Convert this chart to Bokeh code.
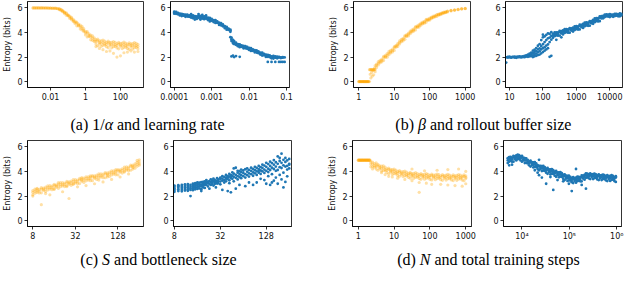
from bokeh.plotting import figure
from bokeh.layouts import column, row
from bokeh.models import Range1d, FixedTicker, CustomJSTickFormatter
from bokeh.core.properties import value
from bokeh.embed import file_html
from bokeh.resources import INLINE

ORANGE = "#ffa500"
BLUE = "#1f77b4"

# ---------------- data ----------------
# (a) left: x = log10(1/alpha), entropy values
inv_alpha_log10 = [
    (-3.0, [6.0, 6.0]), (-2.9, [6.0, 6.0]), (-2.8, [6.0, 6.0]), (-2.7, [6.0, 6.0]), (-2.6, [6.0, 5.99]),
    (-2.5, [6.0, 6.0]), (-2.4, [6.0, 5.99]), (-2.3, [5.99, 6.0]), (-2.2, [5.99, 6.0]), (-2.1, [5.99, 5.98]),
    (-2.0, [5.98, 5.99]), (-1.9, [5.98, 5.97]), (-1.8, [5.97, 5.98]), (-1.7, [5.96, 5.98]), (-1.6, [5.93, 5.95]),
    (-1.5, [5.9, 5.94, 5.85]), (-1.4, [5.84, 5.78, 5.89]), (-1.3, [5.69, 5.73, 5.78]), (-1.2, [5.66, 5.55, 5.61]),
    (-1.1, [5.4, 5.54, 5.59]), (-1.0, [5.39, 5.35, 5.44]), (-0.9, [5.25, 5.33, 5.14]), (-0.8, [5.14, 5.04, 5.22]),
    (-0.7, [4.9, 4.97, 5.07]), (-0.6, [4.92, 4.72, 4.83]), (-0.5, [4.54, 4.76, 4.84]), (-0.4, [4.6, 4.53, 4.69]),
    (-0.3, [4.46, 4.6, 4.28]), (-0.2, [4.36, 4.2, 4.5]), (-0.1, [4.07, 4.17, 4.31]), (0.0, [4.09, 3.8, 3.96]),
    (0.1, [3.64, 3.95, 4.06]), (0.2, [3.76, 3.67, 3.88]), (0.3, [3.62, 3.79, 3.4]), (0.4, [3.56, 3.36, 3.73]),
    (0.5, [3.26, 3.39, 3.57]), (0.6, [3.41, 3.06, 3.25, 2.85]), (0.7, [2.92, 3.31, 3.45]), (0.8, [3.18, 3.07, 3.32, 2.7]),
    (0.9, [3.12, 3.32, 2.87]), (1.0, [3.18, 2.96, 3.38, 2.6]), (1.1, [2.97, 3.11, 3.3]), (1.2, [3.2, 2.84, 3.03, 2.45]),
    (1.3, [2.76, 3.15, 3.29]), (1.4, [3.05, 2.94, 3.19, 2.5]), (1.5, [3.0, 3.2, 2.75]), (1.6, [3.06, 2.84, 3.26, 2.3]),
    (1.7, [2.86, 3.0, 3.19]), (1.8, [3.1, 2.74, 2.93, 2.0]), (1.9, [2.67, 3.06, 3.2]), (2.0, [2.98, 2.87, 3.12, 2.1]),
    (2.1, [2.94, 3.14, 2.69]), (2.2, [3.01, 2.79, 3.21, 2.35]), (2.3, [2.81, 2.95, 3.14]), (2.4, [3.06, 2.7, 2.89, 2.4]),
    (2.5, [2.63, 3.02, 3.16]), (2.6, [2.94, 2.83, 3.08, 2.5]), (2.7, [2.9, 3.1, 2.65]), (2.8, [2.98, 2.76, 3.18, 2.4]),
    (2.9, [2.79, 2.93, 3.12]), (3.0, [3.04, 2.68, 2.87, 2.45]),
]

# (a) right: x = log10(learning rate)
learning_rate_log10 = [
    (-4.0, [5.62, 5.69, 5.53]), (-3.95, [5.6, 5.52, 5.67]), (-3.9, [5.48, 5.53, 5.6]), (-3.85, [5.53, 5.39, 5.46]),
    (-3.8, [5.33, 5.47, 5.52]), (-3.75, [5.41, 5.37, 5.46]), (-3.7, [5.37, 5.45, 5.27]), (-3.65, [5.37, 5.29, 5.44]),
    (-3.6, [5.27, 5.32, 5.39]), (-3.55, [5.35, 5.21, 5.28, 5.5]), (-3.5, [5.16, 5.33, 5.39]), (-3.45, [5.26, 5.21, 5.33, 5.05]),
    (-3.4, [5.22, 5.31, 5.1]), (-3.35, [5.28, 5.18, 5.36, 5.5]), (-3.3, [5.2, 5.26, 5.35, 5.05]), (-3.25, [5.3, 5.13, 5.22, 5.42]),
    (-3.2, [5.08, 5.25, 5.31]), (-3.15, [5.17, 5.12, 5.23, 5.38]), (-3.1, [5.12, 5.2, 5.01]), (-3.05, [5.1, 5.0, 5.18, 4.9]),
    (-3.0, [4.95, 5.01, 5.1]), (-2.95, [5.01, 4.85, 4.94]), (-2.9, [4.78, 4.95, 5.01]), (-2.85, [4.83, 4.78, 4.9]),
    (-2.8, [4.72, 4.8, 4.61]), (-2.75, [4.68, 4.58, 4.76]), (-2.7, [4.5, 4.56, 4.65]), (-2.65, [4.51, 4.35, 4.44]),
    (-2.6, [4.23, 4.4, 4.46]), (-2.55, [4.26, 4.21, 4.32]), (-2.5, [4.15, 4.22, 4.05, 3.62]), (-2.47, [3.58, 3.45, 3.3, 2.05]),
    (-2.43, [3.4, 3.25, 3.12, 2.12]), (-2.4, [3.19, 3.06, 3.3, 2.0]), (-2.35, [3.0, 3.06, 3.17, 2.08]), (-2.3, [3.05, 2.88, 2.97]),
    (-2.25, [2.8, 2.97, 3.03, 2.02]), (-2.2, [2.88, 2.83, 2.94]), (-2.15, [2.82, 2.9, 2.71]), (-2.1, [2.81, 2.71, 2.89]),
    (-2.05, [2.67, 2.73, 2.82]), (-2.0, [2.74, 2.58, 2.67]), (-1.95, [2.5, 2.67, 2.73]), (-1.9, [2.56, 2.51, 2.62]),
    (-1.85, [2.49, 2.57, 2.38]), (-1.8, [2.46, 2.36, 2.54]), (-1.75, [2.31, 2.37, 2.46]), (-1.7, [2.36, 2.2, 2.29]),
    (-1.65, [2.12, 2.29, 2.35]), (-1.6, [2.19, 2.14, 2.25]), (-1.55, [2.12, 2.2, 2.01]), (-1.5, [2.11, 2.02, 2.18, 1.6]),
    (-1.45, [1.99, 2.05, 2.14]), (-1.4, [2.06, 1.9, 1.99, 1.6]), (-1.35, [1.88, 2.04, 2.09]), (-1.3, [1.99, 1.95, 2.05, 1.6]),
    (-1.25, [1.97, 2.03, 1.9]), (-1.2, [1.96, 1.6, 2.02]), (-1.15, [1.98, 1.92, 1.6]), (-1.1, [1.95, 2.0, 1.6]),
    (-1.05, [1.97, 1.6]),
]

# (b) left: x = log10(beta)
beta_log10 = [
    (0.0, [0.0, 0.0]), (0.025, [0.0, 0.0]), (0.05, [0.0, 0.0]), (0.075, [0.0, 0.0]), (0.1, [0.0, 0.0]),
    (0.125, [0.0, 0.0]), (0.15, [0.0, 0.0]), (0.175, [0.0, 0.0]), (0.2, [0.0, 0.0]), (0.225, [0.0, 0.0]),
    (0.25, [0.0, 0.0]), (0.275, [0.0, 0.0]), (0.3, [0.0, 0.97]), (0.32, [0.97, 0.6]), (0.34, [0.97, 0.3]),
    (0.36, [0.97, 0.75]), (0.38, [0.97, 0.45]), (0.4, [0.97, 0.9]), (0.42, [0.97, 0.55]), (0.44, [0.97, 1.1]),
    (0.46, [0.97, 0.8, 1.3]), (0.5, [1.3, 1.43, 1.14]), (0.55, [1.5, 1.36, 1.63]), (0.6, [1.53, 1.62, 1.74]),
    (0.65, [1.84, 1.61, 1.73]), (0.7, [1.72, 1.97, 2.06]), (0.75, [2.04, 1.97, 2.13]), (0.8, [2.15, 2.28, 1.99]),
    (0.85, [2.33, 2.19, 2.46]), (0.9, [2.33, 2.42, 2.54]), (0.95, [2.64, 2.41, 2.53]), (1.0, [2.54, 2.76, 2.84]),
    (1.05, [2.87, 2.8, 2.95]), (1.1, [3.0, 3.11, 2.86]), (1.15, [3.2, 3.07, 3.31]), (1.2, [3.24, 3.32, 3.43]),
    (1.25, [3.53, 3.32, 3.43]), (1.3, [3.44, 3.66, 3.74]), (1.35, [3.74, 3.67, 3.82]), (1.4, [3.85, 3.95, 3.72]),
    (1.45, [4.01, 3.9, 4.11]), (1.5, [4.04, 4.11, 4.21]), (1.55, [4.29, 4.11, 4.21]), (1.6, [4.21, 4.41, 4.48]),
    (1.65, [4.46, 4.41, 4.53]), (1.7, [4.55, 4.63, 4.44]), (1.75, [4.69, 4.59, 4.77]), (1.8, [4.7, 4.76, 4.85]),
    (1.85, [4.91, 4.75, 4.84]), (1.9, [4.83, 5.0, 5.06]), (1.95, [5.03, 4.99, 5.08]), (2.0, [5.1, 5.17, 5.01]),
    (2.05, [5.2, 5.13, 5.25]), (2.1, [5.21, 5.26, 5.33]), (2.15, [5.36, 5.27, 5.33]), (2.2, [5.3, 5.42, 5.46]),
    (2.25, [5.45, 5.41, 5.49]), (2.3, [5.5, 5.55, 5.45]), (2.35, [5.57, 5.52, 5.6]), (2.4, [5.58, 5.61, 5.65]),
    (2.45, [5.67, 5.62, 5.66]), (2.5, [5.66, 5.72, 5.74]), (2.6, [5.78, 5.75, 5.8]), (2.7, [5.82, 5.85, 5.8]),
    (2.8, [5.88, 5.85, 5.89]), (2.9, [5.91, 5.92, 5.94]), (3.0, [5.95, 5.96, 5.94]),
]

# (b) right: x = log10(rollout buffer size)
rollout_log10 = [
    (0.9, [1.98, 1.55]), (0.95, [2.01, 1.96]), (1.0, [1.97, 2.03]), (1.05, [2.0, 1.95]), (1.1, [2.02, 1.99]),
    (1.15, [1.96, 2.03]), (1.2, [2.01, 1.94]), (1.25, [2.03, 1.98]), (1.3, [1.99, 2.06]), (1.35, [1.97, 2.04]),
    (1.4, [2.06, 2.0]), (1.45, [2.1, 1.99]), (1.5, [2.04, 2.14]), (1.55, [2.12, 2.2, 2.02]), (1.6, [2.15, 2.27, 2.05]),
    (1.65, [2.22, 2.36, 2.08]), (1.7, [2.31, 2.52, 2.14, 2.0]), (1.75, [2.42, 2.6, 2.22, 2.06]),
    (1.8, [2.48, 2.73, 2.28, 2.1]), (1.85, [2.63, 2.39, 2.92, 2.16]), (1.9, [2.7, 2.47, 3.05, 2.2]),
    (1.95, [2.88, 2.62, 3.38, 2.3]), (2.0, [3.05, 2.72, 3.6, 3.82, 2.4]), (2.05, [3.22, 2.8, 3.68, 2.52]),
    (2.1, [3.38, 2.93, 3.8, 2.62]), (2.15, [3.52, 3.03, 3.92, 2.72]), (2.2, [3.58, 3.22, 3.88, 2.02]),
    (2.25, [3.72, 3.41, 4.02, 2.1]), (2.3, [3.75, 3.89, 3.57]), (2.35, [3.86, 3.7, 4.0]), (2.4, [3.77, 3.87, 4.01, 3.4]),
    (2.45, [4.0, 3.74, 3.88]), (2.5, [3.75, 4.03, 4.13]), (2.55, [4.0, 3.92, 4.1, 3.6]), (2.6, [4.02, 4.16, 3.84]),
    (2.65, [4.12, 3.96, 4.26]), (2.7, [4.02, 4.12, 4.26]), (2.75, [4.24, 3.98, 4.12]), (2.8, [3.98, 4.26, 4.36]),
    (2.85, [4.24, 4.16, 4.34]), (2.9, [4.26, 4.4, 4.08]), (2.95, [4.36, 4.2, 4.5]), (3.0, [4.27, 4.37, 4.51]),
    (3.05, [4.5, 4.24, 4.38]), (3.1, [4.25, 4.53, 4.63]), (3.15, [4.52, 4.44, 4.62]), (3.2, [4.55, 4.69, 4.37]),
    (3.25, [4.66, 4.5, 4.8]), (3.3, [4.57, 4.67, 4.81]), (3.35, [4.8, 4.54, 4.68]), (3.4, [4.55, 4.83, 4.93]),
    (3.45, [4.82, 4.74, 4.92]), (3.5, [4.88, 5.02, 4.7]), (3.55, [5.0, 4.84, 5.14]), (3.6, [4.92, 5.02, 5.16]),
    (3.65, [5.16, 4.9, 5.04]), (3.7, [4.92, 5.2, 5.3]), (3.75, [5.22, 5.14, 5.32]), (3.8, [5.26, 5.34, 5.15]),
    (3.85, [5.36, 5.26, 5.44]), (3.9, [5.31, 5.37, 5.46]), (3.95, [5.46, 5.3, 5.39]), (4.0, [5.26, 5.43, 5.49]),
    (4.05, [5.39, 5.34, 5.45]), (4.1, [5.38, 5.46, 5.27]), (4.15, [5.44, 5.34, 5.52]), (4.2, [5.37, 5.43, 5.52]),
    (4.25, [5.48, 5.32, 5.41]), (4.3, [5.32, 5.49, 5.55]), (4.35, [5.45, 5.4, 5.51]),
]

# (c) left: x = log2(S)
s_log2 = [
    (3.0, [2.3, 2.45, 2.1, 2.0]), (3.1, [2.41, 2.23, 2.56]), (3.2, [2.29, 2.4, 2.56, 2.62]), (3.3, [2.54, 2.25, 2.41]),
    (3.4, [2.26, 2.57, 2.68, 1.3]), (3.5, [2.54, 2.45, 2.65]), (3.6, [2.57, 2.72, 2.37, 2.2]), (3.7, [2.68, 2.5, 2.83]),
    (3.8, [2.57, 2.68, 2.84, 2.1]), (3.9, [2.81, 2.52, 2.68]), (4.0, [2.53, 2.84, 2.95, 2.6]), (4.1, [2.81, 2.72, 2.92]),
    (4.2, [2.83, 2.98, 2.63, 3.1]), (4.3, [2.94, 2.76, 3.09]), (4.4, [2.82, 2.93, 3.09, 2.35]), (4.5, [3.06, 2.77, 2.93]),
    (4.6, [2.77, 3.08, 3.19, 2.85]), (4.7, [3.05, 2.96, 3.16, 1.8]), (4.8, [3.07, 3.22, 2.87]), (4.9, [3.18, 3.0, 3.33, 2.95]),
    (5.0, [3.06, 3.17, 3.33]), (5.1, [3.3, 3.01, 3.17, 2.75]), (5.2, [3.01, 3.32, 3.43]), (5.3, [3.29, 3.2, 3.4, 3.5]),
    (5.4, [3.31, 3.46, 3.11]), (5.5, [3.42, 3.24, 3.57, 2.85]), (5.6, [3.3, 3.41, 3.57]), (5.7, [3.54, 3.25, 3.41, 3.65]),
    (5.8, [3.25, 3.56, 3.67]), (5.9, [3.53, 3.44, 3.64, 3.0]), (6.0, [3.55, 3.7, 3.35]), (6.1, [3.66, 3.48, 3.81, 3.3]),
    (6.2, [3.54, 3.65, 3.81]), (6.3, [3.78, 3.49, 3.65, 3.15]), (6.4, [3.49, 3.8, 3.91]), (6.5, [3.77, 3.68, 3.88, 3.55]),
    (6.6, [3.79, 3.94, 3.59]), (6.7, [3.9, 3.72, 4.05, 3.35]), (6.8, [3.78, 3.89, 4.05]), (6.9, [4.02, 3.73, 3.89, 4.15]),
    (7.0, [3.73, 4.04, 4.15]), (7.1, [4.03, 3.94, 4.14, 3.55]), (7.2, [4.07, 4.22, 3.87]), (7.3, [4.2, 4.02, 4.35, 3.95]),
    (7.4, [4.1, 4.21, 4.37]), (7.5, [4.36, 4.07, 4.23, 3.8]), (7.6, [4.1, 4.41, 4.52]), (7.7, [4.41, 4.32, 4.52, 4.2]),
    (7.8, [4.46, 4.61, 4.26]), (7.9, [4.6, 4.42, 4.75, 4.9]), (8.0, [4.51, 4.62, 4.78, 4.95]),
]

# (c) right: x = bottleneck size
bottleneck = [
    (8, [2.35, 2.5, 2.62, 2.75, 2.85]), (9, [2.4, 2.55, 2.68, 2.8, 2.88]), (10, [2.38, 2.52, 2.66, 2.78, 2.9]),
    (11, [2.45, 2.58, 2.7, 2.82, 2.95]), (12, [2.42, 2.56, 2.72, 2.85, 2.97]), (13, [2.5, 2.62, 2.75, 2.9, 2.0]),
    (14, [2.48, 2.64, 2.78, 2.92, 3.0]), (15, [2.55, 2.7, 2.82, 2.95, 3.05]), (16, [2.58, 2.72, 2.86, 3.0, 3.1]),
    (17, [2.62, 2.8, 2.95, 3.08]), (18, [2.55, 2.78, 2.92, 3.12, 2.4]), (19, [2.7, 2.86, 3.0, 3.15]),
    (20, [2.66, 2.9, 3.05, 3.2]), (21, [2.92, 3.1, 3.3]), (22, [3.05, 2.78, 3.18]), (23, [2.98, 3.22, 2.6]),
    (24, [3.12, 2.9, 3.36]), (25, [3.0, 3.27, 3.15]), (26, [3.2, 2.85, 3.42]), (27, [3.08, 3.3, 2.98]),
    (28, [3.25, 3.12, 2.7]), (29, [3.15, 3.45, 3.02]), (30, [3.35, 3.05, 3.22]), (32, [3.18, 3.5, 3.38, 2.95]),
    (34, [3.42, 3.25, 3.62, 2.5]), (36, [3.3, 3.55, 3.1]), (38, [3.5, 3.2, 3.72, 3.4]), (40, [3.38, 3.62, 2.4, 3.52]),
    (42, [3.58, 3.28, 3.8, 3.05]), (44, [3.45, 3.7, 2.3, 3.6]), (46, [3.65, 3.4, 3.92]), (48, [3.55, 3.82, 4.25, 3.2]),
    (51, [3.72, 3.48, 4.3, 2.6]), (54, [3.62, 3.9, 3.35, 4.05]), (57, [3.8, 3.55, 4.02, 2.9]), (60, [3.7, 3.95, 3.45, 4.15]),
    (64, [3.88, 3.62, 4.08]), (68, [3.78, 4.18, 3.5, 2.8]), (72, [3.98, 3.7, 4.25]), (76, [3.85, 4.12, 3.58, 3.1]),
    (81, [4.05, 3.78, 4.3]), (86, [3.92, 4.2, 3.65, 2.9]), (91, [4.1, 3.85, 4.38]), (96, [4.0, 4.28, 3.72, 3.1]),
    (102, [4.18, 3.9, 4.45, 4.05]), (108, [4.08, 4.35, 3.8, 3.4]), (114, [4.28, 4.0, 4.55]), (121, [4.15, 4.48, 3.88, 3.3]),
    (128, [4.38, 4.05, 4.7, 3.0]), (136, [4.22, 4.6, 3.95, 3.62]), (144, [4.45, 4.12, 4.8, 2.9]), (152, [4.3, 4.68, 3.78, 3.1]),
    (161, [4.55, 4.2, 4.92, 3.25]), (171, [4.4, 4.75, 4.05, 3.5]), (181, [4.62, 5.22, 4.12, 3.0]), (192, [4.35, 4.85, 5.1, 3.72]),
    (203, [4.7, 5.45, 4.28, 3.35]), (215, [4.5, 4.95, 3.9, 2.7]), (228, [4.78, 5.1, 4.4, 3.15]), (241, [4.45, 4.9, 4.15, 3.6]),
    (256, [4.62, 5.02, 4.55, 4.25]),
]

# (d) left: x = log10(N)
n_log10 = [
    (0.0, [4.92, 4.92]), (0.025, [4.92, 4.92]), (0.05, [4.92, 4.92]), (0.075, [4.92, 4.92]), (0.1, [4.92, 4.92]),
    (0.125, [4.92, 4.92]), (0.15, [4.92, 4.92]), (0.175, [4.92, 4.92]), (0.2, [4.92, 4.92]), (0.225, [4.92, 4.92]),
    (0.25, [4.92, 4.92]), (0.275, [4.92, 4.92]), (0.3, [4.92, 4.92]), (0.325, [4.92, 4.92]),
    (0.35, [4.6, 4.78, 4.38]), (0.4, [4.6, 4.4, 4.77, 4.2]), (0.45, [4.35, 4.47, 4.65]), (0.5, [4.52, 4.2, 4.38, 4.7]),
    (0.55, [4.1, 4.45, 4.57]), (0.6, [4.32, 4.22, 4.45]), (0.65, [4.25, 4.43, 4.03, 3.9]), (0.7, [4.28, 4.08, 4.45]),
    (0.75, [4.05, 4.17, 4.35, 3.75]), (0.8, [4.22, 3.9, 4.08]), (0.85, [3.81, 4.16, 4.28, 3.6]), (0.9, [4.04, 3.94, 4.17]),
    (0.95, [3.98, 4.16, 3.76, 3.55]), (1.0, [4.02, 3.82, 4.19]), (1.05, [3.81, 3.93, 4.11]), (1.1, [4.0, 3.68, 3.86, 3.45]),
    (1.15, [3.6, 3.95, 4.07]), (1.2, [3.84, 3.74, 3.97]), (1.25, [3.8, 3.98, 3.58]), (1.3, [3.85, 3.65, 4.02, 3.35]),
    (1.35, [3.64, 3.76, 3.94]), (1.4, [3.84, 3.52, 3.7]), (1.45, [3.45, 3.8, 3.92]), (1.5, [3.7, 3.6, 3.83, 3.25, 4.2]),
    (1.55, [3.66, 3.84, 3.44]), (1.6, [3.73, 3.53, 3.9]), (1.65, [3.53, 3.65, 3.83]), (1.7, [3.74, 3.42, 3.6, 3.1, 2.3]),
    (1.75, [3.36, 3.71, 3.83]), (1.8, [3.62, 3.52, 3.75]), (1.85, [3.59, 3.77, 3.37, 4.05]), (1.9, [3.66, 3.46, 3.83, 3.05]),
    (1.95, [3.47, 3.59, 3.77]), (2.0, [3.68, 3.36, 3.54]), (2.05, [3.31, 3.66, 3.78, 2.95]), (2.1, [3.57, 3.47, 3.7]),
    (2.15, [3.55, 3.73, 3.33]), (2.2, [3.62, 3.42, 3.79, 4.1]), (2.25, [3.44, 3.56, 3.74]), (2.3, [3.65, 3.33, 3.51, 2.95]),
    (2.35, [3.28, 3.63, 3.75]), (2.4, [3.54, 3.44, 3.67]), (2.45, [3.52, 3.7, 3.3]), (2.5, [3.6, 3.4, 3.77, 2.9, 4.15]),
    (2.55, [3.41, 3.53, 3.71]), (2.6, [3.63, 3.31, 3.49]), (2.65, [3.26, 3.61, 3.73]), (2.7, [3.52, 3.42, 3.65, 2.85]),
    (2.75, [3.5, 3.68, 3.28]), (2.8, [3.58, 3.38, 3.75, 4.2]), (2.85, [3.4, 3.52, 3.7]), (2.9, [3.62, 3.3, 3.48, 2.8]),
    (2.95, [3.25, 3.6, 3.72]), (3.0, [3.52, 3.42, 3.65, 3.0, 4.0]),
]

# (d) right: x = log10(total training steps)
steps_log10 = [
    (3.70, [4.9, 5.08, 4.68]), (3.73, [5.0, 4.8, 5.17, 4.5]), (3.76, [4.88, 5.0, 5.18]), (3.79, [5.12, 4.8, 4.98, 4.55]),
    (3.82, [4.8, 5.15, 5.27]), (3.85, [5.1, 5.0, 5.23]), (3.88, [5.12, 5.3, 4.9]), (3.91, [5.2, 5.0, 5.37]),
    (3.94, [5.02, 5.14, 5.32]), (3.97, [5.22, 4.9, 5.08]), (4.00, [4.8, 5.15, 5.27]), (4.03, [5.0, 4.9, 5.13]),
    (4.06, [4.9, 5.08, 4.68]), (4.09, [4.9, 4.7, 5.07]), (4.12, [4.65, 4.77, 4.95]), (4.15, [4.82, 4.5, 4.68]),
    (4.18, [4.4, 4.75, 4.87]), (4.21, [4.62, 4.52, 4.75]), (4.24, [4.55, 4.73, 4.33]), (4.27, [4.58, 4.38, 4.75, 4.1]),
    (4.30, [4.35, 4.47, 4.65]), (4.33, [4.52, 4.2, 4.38, 3.9]), (4.36, [4.1, 4.45, 4.95, 3.7]), (4.39, [4.32, 4.22, 4.45]),
    (4.42, [4.25, 4.43, 4.03, 3.5]), (4.45, [4.28, 4.08, 4.45]), (4.48, [4.05, 4.17, 4.35]), (4.51, [4.22, 3.9, 4.08, 3.0]),
    (4.54, [3.81, 4.16, 4.28]), (4.57, [4.04, 3.94, 4.17]), (4.60, [3.98, 4.16, 3.76, 3.55]), (4.63, [4.02, 3.82, 4.19]),
    (4.66, [3.8, 3.92, 4.1, 2.5]), (4.69, [3.98, 3.66, 3.84]), (4.72, [3.57, 3.92, 4.04]), (4.75, [3.8, 3.7, 3.93, 3.3]),
    (4.78, [3.74, 3.92, 3.52]), (4.81, [3.78, 3.58, 3.95]), (4.84, [3.56, 3.68, 3.86]), (4.87, [3.72, 3.4, 3.58, 3.2]),
    (4.90, [3.3, 3.65, 3.77]), (4.93, [3.52, 3.42, 3.65]), (4.96, [3.45, 3.63, 3.23]), (4.99, [3.48, 3.28, 3.65, 3.0]),
    (5.02, [3.26, 3.38, 3.56]), (5.05, [3.45, 3.13, 3.31, 2.4]), (5.08, [3.06, 3.41, 3.53]), (5.11, [3.32, 3.22, 3.45]),
    (5.14, [3.31, 3.49, 3.09, 4.2]), (5.17, [3.41, 3.21, 3.58]), (5.20, [3.26, 3.38, 3.56]), (5.23, [3.52, 3.2, 3.38]),
    (5.26, [3.2, 3.55, 3.67, 2.9]), (5.29, [3.52, 3.42, 3.65]), (5.32, [3.55, 3.73, 3.33]), (5.35, [3.68, 3.48, 3.85, 2.6]),
    (5.38, [3.52, 3.64, 3.82]), (5.41, [3.76, 3.44, 3.62]), (5.44, [3.38, 3.73, 3.85]), (5.47, [3.64, 3.54, 3.77]),
    (5.50, [3.6, 3.78, 3.38]), (5.53, [3.66, 3.46, 3.83]), (5.56, [3.47, 3.59, 3.77]), (5.59, [3.67, 3.35, 3.53]),
    (5.62, [3.3, 3.65, 3.77]), (5.65, [3.55, 3.45, 3.68]), (5.68, [3.52, 3.7, 3.3]), (5.71, [3.58, 3.38, 3.75]),
    (5.74, [3.4, 3.52, 3.7]), (5.77, [3.6, 3.28, 3.46]), (5.80, [3.22, 3.57, 3.69]), (5.83, [3.48, 3.38, 3.61]),
    (5.86, [3.45, 3.63, 3.23]), (5.89, [3.52, 3.32, 3.69]), (5.92, [3.33, 3.45, 3.63]), (5.95, [3.54, 3.22, 3.4]),
    (5.98, [3.15, 3.5, 3.62]),
]

# tick values and labels
ticks_inv_alpha = [0.01, 1, 100]
labels_inv_alpha = ["0.01", "1", "100"]
ticks_lr = [1e-4, 1e-3, 1e-2, 1e-1]
labels_lr = ["0.0001", "0.001", "0.01", "0.1"]
ticks_beta = [1, 10, 100, 1000]
labels_beta = ["1", "10", "100", "1000"]
ticks_rollout = [10, 100, 1000, 10000]
labels_rollout = ["10", "100", "1000", "10000"]
ticks_pow2 = [8, 32, 128]
labels_pow2 = ["8", "32", "128"]
ticks_n = [1, 10, 100, 1000]
labels_n = ["1", "10", "100", "1000"]
ticks_steps = [1e4, 1e5, 1e6]
labels_steps = ["10\u2074", "10\u2075", "10\u2076"]
y_ticks = [0, 2, 4, 6]

# ---------------- helpers ----------------
JS = """
for (let i = 0; i < vals.length; i++) {
  if (Math.abs(tick - vals[i]) <= 1e-6 * Math.abs(vals[i])) { return labs[i]; }
}
return "";
"""


def expand(groups, base=None):
    xs, ys = [], []
    for x, yy in groups:
        xv = base ** x if base else x
        for y in yy:
            xs.append(xv)
            ys.append(y)
    return xs, ys


def panel(groups, base, color, alpha, size, xr, ticks, labels, w, bl, br, h, bt, bb, ylabel):
    xs, ys = expand(groups, base)
    p = figure(width=w, height=h, x_axis_type="log",
               x_range=Range1d(xr[0], xr[1]), y_range=Range1d(-0.48, 6.52),
               output_backend="svg", toolbar_location=None,
               min_border_left=bl, min_border_right=br, min_border_top=bt, min_border_bottom=bb)
    p.scatter(xs, ys, size=size, fill_color=color, fill_alpha=alpha, line_color=None)
    p.grid.visible = False
    p.background_fill_color = "white"
    p.border_fill_color = "white"
    p.outline_line_color = "black"
    p.outline_line_width = 0.8
    p.outline_line_alpha = 1.0
    p.xaxis.ticker = FixedTicker(ticks=ticks)
    p.xaxis.formatter = CustomJSTickFormatter(args=dict(vals=ticks, labs=labels), code=JS)
    p.yaxis.ticker = FixedTicker(ticks=y_ticks)
    for ax in p.axis:
        ax.axis_line_color = "black"
        ax.axis_line_width = 0.8
        ax.major_tick_line_color = "black"
        ax.major_tick_line_width = 0.8
        ax.major_tick_in = 0
        ax.major_tick_out = 3
        ax.minor_tick_line_color = None
        ax.major_label_text_font = "DejaVu Sans"
        ax.major_label_text_font_size = "8px"
        ax.major_label_text_color = "#111111"
        ax.major_label_standoff = 2
    if ylabel:
        p.yaxis.axis_label = "Entropy (bits)"
        p.yaxis.axis_label_text_font = "DejaVu Sans"
        p.yaxis.axis_label_text_font_size = "8px"
        p.yaxis.axis_label_text_font_style = "normal"
        p.yaxis.axis_label_text_color = "#111111"
        p.yaxis.axis_label_standoff = 2
    return p


TIMES = {' ': 250, '(': 333, ')': 333, '/': 278, '1': 500, 'a': 444, 'b': 500, 'c': 444, 'd': 500,
         'e': 444, 'f': 333, 'g': 500, 'i': 278, 'k': 500, 'l': 278, 'n': 500, 'o': 500, 'p': 500,
         'r': 333, 's': 389, 't': 278, 'u': 500, 'z': 444, 'α': 520, 'β': 500, 'S': 500, 'N': 667}


def tw(s, size):
    return sum(TIMES.get(ch, 500) for ch in s) / 1000.0 * size


def caption(h, items, size=16):
    c = figure(width=624, height=h, x_range=Range1d(0, 624), y_range=Range1d(h, 0),
               output_backend="svg", toolbar_location=None, min_border=0,
               x_axis_location=None, y_axis_location=None)
    c.grid.visible = False
    c.outline_line_color = None
    c.background_fill_color = "white"
    c.border_fill_color = "white"
    for segments, cx, cy in items:
        total = sum(tw(s, size) for s, _ in segments)
        x = cx - total / 2.0
        for s, italic in segments:
            lead = len(s) - len(s.lstrip(' '))
            c.text(x=[x + lead * 0.25 * size], y=[cy], text=[s.strip()],
                   text_font=value("Liberation Serif"), text_font_size=f"{size}px",
                   text_font_style="italic" if italic else "normal",
                   text_baseline="middle", text_align="left", text_color="black")
            x += tw(s, size)
    return c


# ---------------- panels ----------------
H1, BT1, BB1 = 105, 1, 18
H2, BT2, BB2 = 108, 4, 18
OS, OA = 3.2, 0.35
BS = 2.8

f1 = panel(inv_alpha_log10, 10, ORANGE, OA, OS, (10 ** -3.32, 10 ** 3.32), ticks_inv_alpha, labels_inv_alpha,
           156, 23, 13, H1, BT1, BB1, True)
f2 = panel(learning_rate_log10, 10, BLUE, 1.0, BS, (10 ** -4.1, 10 ** -0.92), ticks_lr, labels_lr,
           164, 14, 31, H1, BT1, BB1, False)
f3 = panel(beta_log10, 10, ORANGE, OA, OS, (10 ** -0.15, 10 ** 3.15), ticks_beta, labels_beta,
           160, 33, 10, H1, BT1, BB1, True)
f4 = panel(rollout_log10, 10, BLUE, 1.0, BS, (10 ** 0.88, 10 ** 4.38), ticks_rollout, labels_rollout,
           144, 25, 2, H1, BT1, BB1, False)

f5 = panel(s_log2, 2, ORANGE, OA, OS, (2 ** 2.75, 2 ** 8.2), ticks_pow2, labels_pow2,
           158, 25, 15, H2, BT2, BB2, True)
f6 = panel(bottleneck, None, BLUE, 1.0, BS, (2 ** 2.96, 2 ** 8.1), ticks_pow2, labels_pow2,
           162, 15, 29, H2, BT2, BB2, False)
f7 = panel(n_log10, 10, ORANGE, OA, OS, (10 ** -0.16, 10 ** 3.16), ticks_n, labels_n,
           160, 32, 9, H2, BT2, BB2, True)
f8 = panel(steps_log10, 10, BLUE, 1.0, BS, (10 ** 3.61, 10 ** 6.1), ticks_steps, labels_steps,
           144, 23, 3, H2, BT2, BB2, False)

cap1 = caption(31, [
    ([("(a) 1/", False), ("α", True), (" and learning rate", False)], 147, 18.5),
    ([("(b) ", False), ("β", True), (" and rollout buffer size", False)], 483, 18.5),
])
cap2 = caption(25, [
    ([("(c) ", False), ("S", True), (" and bottleneck size", False)], 158, 14.5),
    ([("(d) ", False), ("N", True), (" and total training steps", False)], 488, 14.5),
])

layout = column(row(f1, f2, f3, f4), cap1, row(f5, f6, f7, f8), cap2)

open("out.html", "w").write(file_html(layout, INLINE))
